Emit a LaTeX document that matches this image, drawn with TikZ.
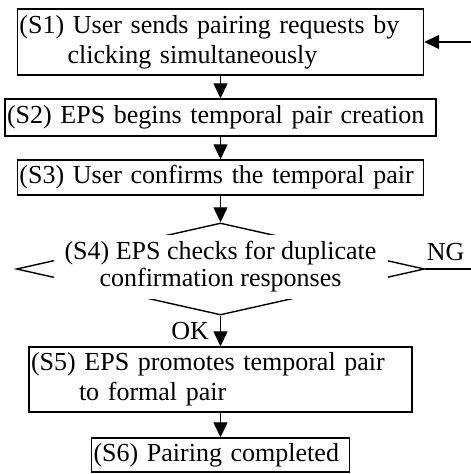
\documentclass[tikz,border=0pt]{standalone}
\usepackage{fontspec}
\setmainfont{Liberation Serif}
\usetikzlibrary{shapes.geometric,arrows.meta}
\tikzset{
  stepbox/.style={draw, line width=1.4pt, inner xsep=2pt, inner ysep=0pt, align=left,
    font=\fontsize{26}{30}\selectfont},
  flow/.style={line width=1.3pt, -{Triangle[length=15pt,width=14pt]}},
  lbl/.style={inner sep=0pt, font=\fontsize{26}{30}\selectfont},
}
\begin{document}
\begin{tikzpicture}[x=1pt,y=-1pt]
\useasboundingbox (0,0) rectangle (471,474);

\node[stepbox, text width=402pt, minimum height=66pt] (s1) at (220.5,42)
  {(S1) User sends pairing requests by\\\hspace*{48pt}clicking simultaneously};
\node[stepbox, text width=427pt, minimum height=37pt] (s2) at (220.5,117.5)
  {(S2) EPS begins temporal pair creation};
\node[stepbox, text width=402pt, minimum height=35pt] (s3) at (220.5,177.5)
  {(S3) User confirms the temporal pair};

\node[diamond, draw, line width=1.4pt, inner sep=0pt, minimum width=408pt, minimum height=92pt] (s4) at (220.5,269) {};
\node[fill=white, inner sep=0pt, align=center, minimum width=334pt, minimum height=64pt,
  font=\fontsize{26}{27}\selectfont] (s4text) at (220.5,267)
  {(S4) EPS checks for duplicate\\confirmation responses};

\node[stepbox, text width=379pt, minimum height=65pt] (s5) at (220.5,379.5)
  {(S5) EPS promotes temporal pair\\\hspace*{48pt}to formal pair};
\node[stepbox, text width=254pt, minimum height=34pt] (s6) at (220.5,455)
  {(S6) Pairing completed};

\coordinate (ngturn) at (479,0);

\draw[flow] (s1) -- (s2);
\draw[flow] (s2) -- (s3);
\draw[flow] (s3) -- (s4);
\draw[flow] (s4) -- node[lbl, left=11pt] {OK} (s5);
\draw[flow] (s5) -- (s6);
\draw[flow] (s4.east) -- node[lbl, above=8pt, pos=0.38] {NG} (s4.east -| ngturn) |- (s1.east);
\end{tikzpicture}
\end{document}
